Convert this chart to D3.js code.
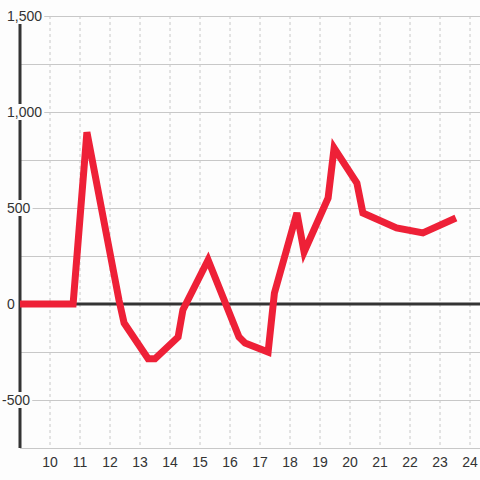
<!DOCTYPE html>
<html>
<head>
<meta charset="utf-8">
<script src="https://cdn.jsdelivr.net/npm/d3@7"></script>
<style>
  body { margin: 0; background: #fdfdfd; }
  svg { display: block; font-family: "Liberation Sans", Arial, sans-serif; }
</style>
</head>
<body>
<svg id="chart" width="480" height="480"></svg>
<script>

// hour of day, value
let hours  = [9, 10.77, 11.23, 12.3, 12.47, 13.27, 13.5, 14.27, 14.43, 15.27, 16.3, 16.5, 17.27, 17.48, 18.23, 18.47, 19.27, 19.47, 20.23, 20.43, 21.55, 22.43, 23.53]
let values = [0, 0, 895, 20, -99, -285, -285, -172, -31, 229, -172, -203, -250, 57, 474, 271, 552, 812, 630, 474, 396, 370, 448]

let xTicks = [10, 11, 12, 13, 14, 15, 16, 17, 18, 19, 20, 21, 22, 23, 24]
let yTicks = [1500, 1000, 500, 0, -500]
let yMinor = [1250, 750, 250, -250]

let svg = d3.select("#chart")

let x = d3.scaleLinear().domain([9, 24.333]).range([20, 480])
let y = d3.scaleLinear().domain([-750, 1500]).range([448, 16])

// vertical dashed grid
svg.append("g")
   .selectAll("line")
   .data(xTicks)
   .enter()
   .append("line")
   .attr("x1", d => x(d)).attr("x2", d => x(d))
   .attr("y1", y(1500)).attr("y2", y(-750))
   .attr("stroke", "#c8c8c8")
   .attr("stroke-dasharray", "3,3")

// horizontal grid
svg.append("g")
   .selectAll("line")
   .data(yTicks.concat(yMinor).filter(d => d != 0))
   .enter()
   .append("line")
   .attr("x1", 20).attr("x2", 480)
   .attr("y1", d => y(d) + 0.5).attr("y2", d => y(d) + 0.5)
   .attr("stroke", "#c8c8c8")

// bottom axis line
svg.append("line")
   .attr("x1", 20).attr("x2", 480)
   .attr("y1", y(-750) + 0.5).attr("y2", y(-750) + 0.5)
   .attr("stroke", "#c8c8c8")

// y axis line
svg.append("line")
   .attr("x1", 20).attr("x2", 20)
   .attr("y1", y(1500)).attr("y2", y(-750))
   .attr("stroke", "#333")
   .attr("stroke-width", 3)

// zero line
svg.append("line")
   .attr("x1", 20).attr("x2", 480)
   .attr("y1", y(0)).attr("y2", y(0))
   .attr("stroke", "#333")
   .attr("stroke-width", 3)

// series
let line = d3.line()
             .x((d, i) => x(hours[i]))
             .y(d => y(d))

svg.append("path")
   .datum(values)
   .attr("d", line)
   .attr("fill", "none")
   .attr("stroke", "#ee2037")
   .attr("stroke-width", 7)

// y labels with background box
let fmt = d3.format(",")
let yl = svg.append("g")
            .selectAll("g")
            .data(yTicks)
            .enter()
            .append("g")
            .attr("transform", d => "translate(" + (d < 0 ? 2 : 7) + "," + y(d) + ")")

yl.append("text")
  .attr("dy", "0.35em")
  .attr("font-size", 14)
  .attr("fill", "#333")
  .text(d => fmt(d).replace("−", "-"))
  .each(function() {
    let b = this.getBBox()
    d3.select(this.parentNode)
      .insert("rect", "text")
      .attr("x", b.x - 1)
      .attr("y", -8)
      .attr("width", b.width + 3)
      .attr("height", 16)
      .attr("fill", "#fdfdfd")
  })

// x labels
svg.append("g")
   .selectAll("text")
   .data(xTicks)
   .enter()
   .append("text")
   .attr("x", d => x(d))
   .attr("y", 462)
   .attr("dy", "0.35em")
   .attr("text-anchor", "middle")
   .attr("font-size", 14)
   .attr("fill", "#333")
   .text(d => d)

</script>
</body>
</html>
